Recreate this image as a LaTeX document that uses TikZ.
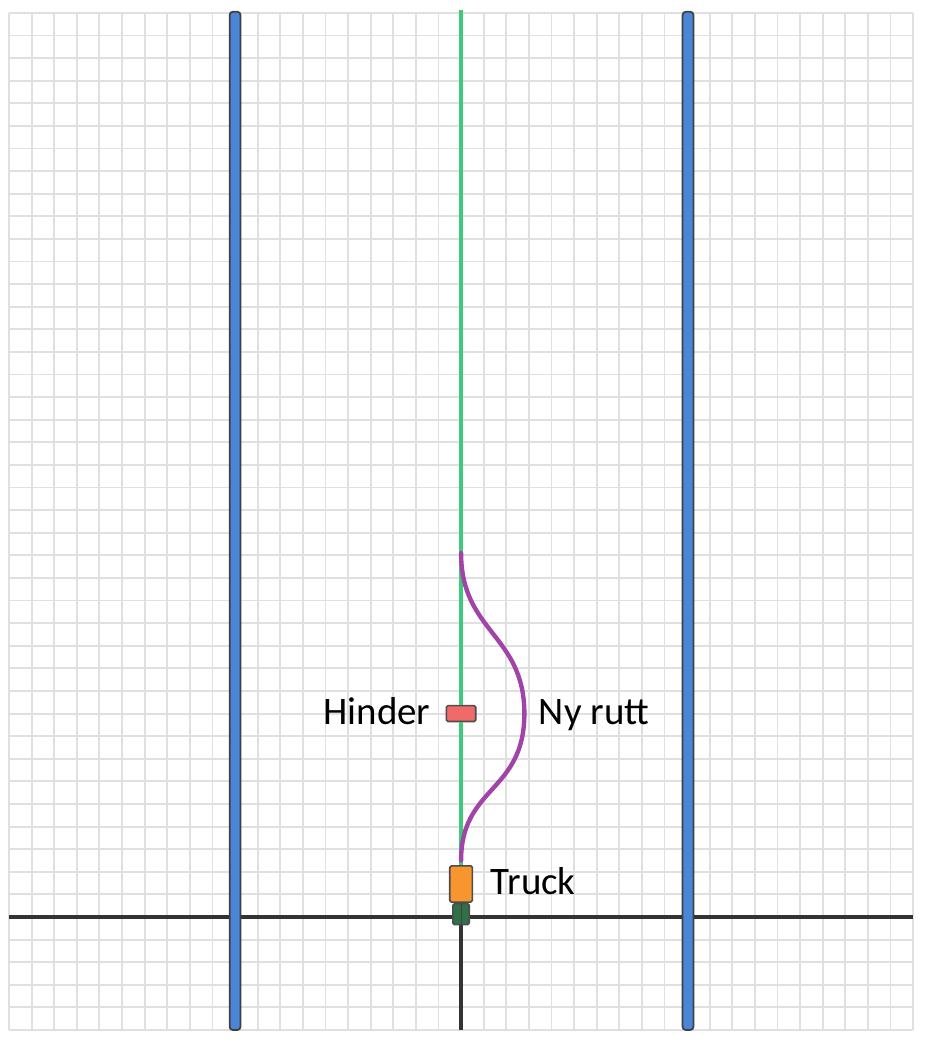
\documentclass[tikz,border=0pt]{standalone}
\usepackage{fontspec}
\setmainfont{Carlito}
\usepackage{xcolor}
\usetikzlibrary{positioning}
\definecolor{wallblue}{HTML}{4A86D8}
\definecolor{pathgreen}{HTML}{3DCB7A}
\definecolor{routepurple}{HTML}{A044A8}
\definecolor{hinderred}{HTML}{F06A6A}
\definecolor{truckorange}{HTML}{F7962F}
\definecolor{wheelgreen}{HTML}{2F7048}

\begin{document}
\begin{tikzpicture}[font=\fontsize{49pt}{57pt}\selectfont,
	gridline/.style={draw=black!12, line width=2.4pt},
	axisline/.style={draw=black!80, line width=4.2pt},
	wall/.style={fill=wallblue, draw=black!75, line width=2.2pt, rounded corners=4pt},
	block/.style={draw=black!70, line width=2pt, rounded corners=2pt, inner sep=0pt},
	tag/.style={inner sep=0pt, text height=0.64em, text depth=0pt, yshift=-0.36cm}]
		\useasboundingbox (-20.4,-5.62) rectangle (20.53,40.57);
		% grid and axes
		\draw[gridline] (-20,-5) grid (20,40);
		\coordinate (xleft) at (-20,0);
		\coordinate (xright) at (20,0);
		\coordinate (ybottom) at (0,-5);
		\coordinate (origin) at (0,0);
		\draw[axisline] (xleft) -- (xright);
		\draw[axisline] (origin) -- (ybottom);
		% walls
		\draw[wall] (-10.24,-5) rectangle (-9.76,40.05);
		\draw[wall] (9.80,-5) rectangle (10.28,40.05);
		% truck
		\node [block, fill=truckorange, minimum width=1.0cm, minimum height=1.6cm] (truck) at (0,1.46) {};
		\node [block, fill=wheelgreen, minimum width=0.72cm, minimum height=0.93cm, anchor=north] (wheels) at (truck.south) {};
		\draw [black!75, line width=1.4pt] (wheels.north) -- (wheels.south);
		\node [block, fill=hinderred, minimum width=1.3cm, minimum height=0.7cm] (hinder) at (0,9) {};
		% planned path and new route
		\coordinate (gtop) at (0,40.13);
		\draw [pathgreen, line width=6pt] (gtop) -- (hinder.north);
		\draw [pathgreen, line width=6pt] (hinder.south) -- (truck.north);
		\coordinate (ruttstart) at (0,2.5);
		\coordinate (ruttpeak) at (2.8,9);
		\coordinate (ruttend) at (0,16.1);
		\draw [routepurple, line width=5.5pt, line cap=round] (ruttstart) .. controls (0,5.8) and (2.8,5.5) .. (ruttpeak) .. controls (2.8,12.5) and (0,12.6) .. (ruttend);
		% labels
		\node [tag, left=0.66cm of hinder] (hinderlbl) {Hinder};
		\node [tag, right=2.75cm of hinder] (ruttlbl) {Ny rutt};
		\node [tag, right=0.78cm of truck] (trucklbl) {Truck};
	\end{tikzpicture}
\end{document}
